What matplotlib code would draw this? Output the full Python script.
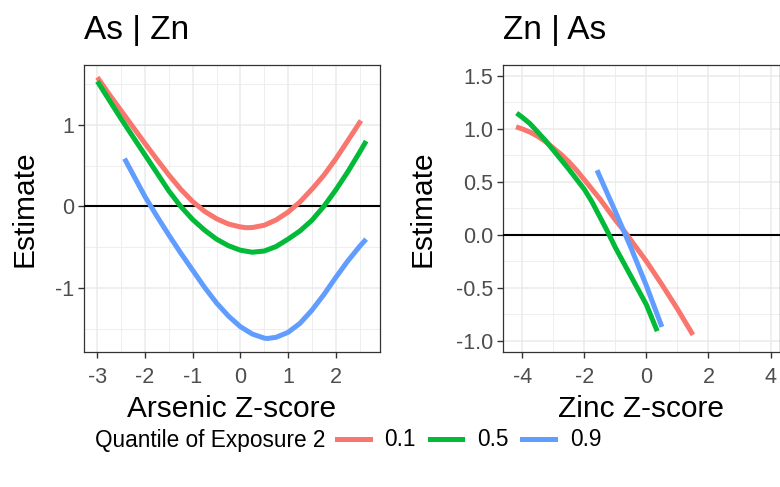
import matplotlib
matplotlib.use("Agg")
import matplotlib.pyplot as plt
from matplotlib.lines import Line2D
from matplotlib.ticker import MultipleLocator, FormatStrFormatter

plt.rcParams['font.family'] = ['Liberation Sans', 'DejaVu Sans']
plt.rcParams['axes.unicode_minus'] = False

quantiles = ['0.1', '0.5', '0.9']
colors = ['#F8766D', '#00BA38', '#619CFF']

# As | Zn panel
as_x_q1 = [-3.0, -2.75, -2.5, -2.25, -2.0, -1.75, -1.5, -1.25, -1.0, -0.75, -0.5, -0.25,
           0.0, 0.12, 0.25, 0.5, 0.75, 1.0, 1.25, 1.5, 1.75, 2.0, 2.25, 2.53]
as_y_q1 = [1.58, 1.37, 1.17, 0.97, 0.77, 0.575, 0.385, 0.21, 0.06, -0.06, -0.15, -0.215,
           -0.25, -0.26, -0.258, -0.23, -0.165, -0.07, 0.055, 0.21, 0.38, 0.58, 0.80, 1.05]
as_x_q5 = [-3.0, -2.75, -2.5, -2.25, -2.0, -1.75, -1.5, -1.25, -1.0, -0.75, -0.5, -0.25,
           0.0, 0.25, 0.5, 0.75, 1.0, 1.25, 1.5, 1.75, 2.0, 2.25, 2.5, 2.64]
as_y_q5 = [1.53, 1.30, 1.07, 0.85, 0.63, 0.41, 0.19, 0.0, -0.16, -0.29, -0.40, -0.48,
           -0.535, -0.56, -0.545, -0.49, -0.40, -0.30, -0.17, 0.0, 0.20, 0.42, 0.66, 0.80]
as_x_q9 = [-2.43, -2.25, -2.0, -1.75, -1.5, -1.25, -1.0, -0.75, -0.5, -0.25, 0.0, 0.25,
           0.5, 0.57, 0.75, 1.0, 1.25, 1.5, 1.75, 2.0, 2.25, 2.5, 2.64]
as_y_q9 = [0.585, 0.39, 0.12, -0.12, -0.35, -0.57, -0.78, -0.99, -1.18, -1.34, -1.47, -1.56,
           -1.61, -1.615, -1.60, -1.54, -1.43, -1.27, -1.08, -0.87, -0.67, -0.49, -0.40]

# Zn | As panel
zn_x_q1 = [-4.2, -4.0, -3.75, -3.5, -3.25, -3.0, -2.75, -2.5, -2.25, -2.0, -1.75, -1.5,
           -1.25, -1.0, -0.75, -0.5, -0.25, 0.0, 0.5, 1.0, 1.5]
zn_y_q1 = [1.02, 1.0, 0.97, 0.93, 0.88, 0.82, 0.76, 0.69, 0.61, 0.52, 0.43, 0.34,
           0.24, 0.14, 0.05, -0.05, -0.15, -0.25, -0.47, -0.70, -0.945]
zn_x_q5 = [-4.18, -4.0, -3.75, -3.5, -3.25, -3.0, -2.5, -2.0, -1.75, -1.5, -1.25, -1.0,
           -0.5, 0.0, 0.35]
zn_y_q5 = [1.15, 1.11, 1.05, 0.97, 0.89, 0.80, 0.62, 0.43, 0.31, 0.17, 0.03, -0.12,
           -0.39, -0.66, -0.91]
zn_x_q9 = [-1.59, -1.0, -0.5, 0.0, 0.5]
zn_y_q9 = [0.61, 0.22, -0.12, -0.48, -0.87]

fig = plt.figure(figsize=(7.8, 4.87), dpi=100)

ax1 = fig.add_axes([84 / 780, 1 - 352 / 487, 296 / 780, 287 / 487])
ax2 = fig.add_axes([503 / 780, 1 - 352 / 487, 276.5 / 780, 287 / 487])


def style(ax):
    ax.set_facecolor('white')
    ax.grid(which='major', color='#EBEBEB', linewidth=1.1, zorder=0)
    ax.grid(which='minor', color='#EBEBEB', linewidth=0.6, zorder=0)
    ax.set_axisbelow(True)
    for s in ax.spines.values():
        s.set_color('#333333')
        s.set_linewidth(0.9)
    ax.tick_params(which='major', length=4, width=1, color='#333333',
                   labelsize=15.5, labelcolor='#4D4D4D', pad=3)
    ax.tick_params(axis='x', pad=7)
    ax.tick_params(which='minor', length=0)
    ax.axhline(0, color='black', linewidth=1.5, zorder=3)


style(ax1)
for xs, ys, c in zip([as_x_q1, as_x_q5, as_x_q9], [as_y_q1, as_y_q5, as_y_q9], colors):
    ax1.plot(xs, ys, color=c, linewidth=3.6, solid_capstyle='butt',
             solid_joinstyle='round', zorder=4)
ax1.set_xlim(-3.28, 2.93)
ax1.set_ylim(-1.78, 1.73)
ax1.xaxis.set_major_locator(MultipleLocator(1))
ax1.xaxis.set_minor_locator(MultipleLocator(0.5))
ax1.yaxis.set_major_locator(MultipleLocator(1))
ax1.yaxis.set_minor_locator(MultipleLocator(0.5))
ax1.set_xlabel('Arsenic Z-score', fontsize=21.5, labelpad=5)
ax1.set_ylabel('Estimate', fontsize=21.5, labelpad=12)
ax1.set_title('As | Zn', fontsize=24, loc='left', pad=19)

style(ax2)
for xs, ys, c in zip([zn_x_q1, zn_x_q5, zn_x_q9], [zn_y_q1, zn_y_q5, zn_y_q9], colors):
    ax2.plot(xs, ys, color=c, linewidth=3.6, solid_capstyle='butt',
             solid_joinstyle='round', zorder=4)
ax2.set_xlim(-4.62, 4.29)
ax2.set_ylim(-1.107, 1.604)
ax2.xaxis.set_major_locator(MultipleLocator(2))
ax2.xaxis.set_minor_locator(MultipleLocator(1))
ax2.yaxis.set_major_locator(MultipleLocator(0.5))
ax2.yaxis.set_minor_locator(MultipleLocator(0.25))
ax2.yaxis.set_major_formatter(FormatStrFormatter('%.1f'))
ax2.set_xlabel('Zinc Z-score', fontsize=21.5, labelpad=5)
ax2.set_ylabel('Estimate', fontsize=21.5, labelpad=14)
ax2.set_title('Zn | As', fontsize=24, loc='left', pad=19)

# legend at the bottom, title on the left
fig.text(95 / 780, 1 - 440 / 487, 'Quantile of Exposure 2', fontsize=16.3,
         ha='left', va='center')
handles = [Line2D([0], [0], color=c, linewidth=3.6) for c in colors]
fig.legend(handles, quantiles, loc='center left', bbox_to_anchor=(337 / 780, 1 - 440 / 487),
           ncol=3, frameon=False, fontsize=16.3, handlelength=1.45, handletextpad=0.65,
           columnspacing=0.6, borderpad=0, borderaxespad=0)

fig.savefig('out.png', dpi=100)
